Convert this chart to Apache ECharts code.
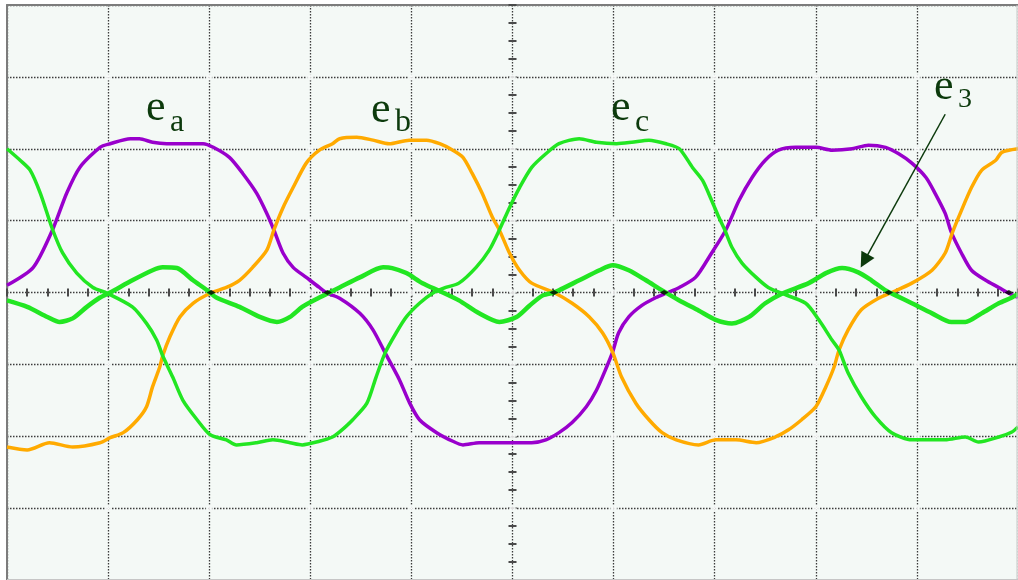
<!DOCTYPE html>
<html>
<head>
<meta charset="utf-8">
<script src="https://cdn.jsdelivr.net/npm/echarts@6/dist/echarts.min.js"></script>
<style>
  html, body { margin: 0; padding: 0; background: #ffffff; }
  #chart { width: 1018px; height: 580px; }
</style>
</head>
<body>
<div id="chart"></div>
<script>
// Back-EMF traces, in screen divisions (x: -5..5, y: -4..4)
const ea = [
  [-5.00,0.10],[-4.74,0.35],[-4.55,0.87],[-4.41,1.38],[-4.28,1.74],[-4.08,2.02],[-3.98,2.07],
  [-3.78,2.14],[-3.69,2.14],[-3.56,2.09],[-3.42,2.07],[-3.22,2.07],[-3.06,2.07],[-2.96,2.02],
  [-2.80,1.88],[-2.67,1.66],[-2.53,1.38],[-2.43,1.10],[-2.36,0.87],[-2.27,0.55],[-2.17,0.35],
  [-2.04,0.21],[-1.91,0.07],[-1.83,-0.01],[-1.71,-0.08],[-1.51,-0.29],[-1.38,-0.52],[-1.26,-0.84],
  [-1.12,-1.21],[-1.02,-1.53],[-0.92,-1.77],[-0.75,-1.95],[-0.59,-2.07],[-0.49,-2.12],[-0.33,-2.09],
  [-0.16,-2.09],[0.00,-2.09],[0.19,-2.09],[0.33,-2.05],[0.46,-1.95],[0.59,-1.81],[0.73,-1.59],
  [0.83,-1.36],[0.93,-1.04],[0.99,-0.83],[1.05,-0.56],[1.15,-0.34],[1.28,-0.18],[1.42,-0.07],
  [1.52,-0.01],[1.65,0.07],[1.81,0.21],[1.97,0.55],[2.11,0.87],[2.24,1.28],[2.37,1.60],[2.50,1.84],
  [2.63,1.98],[2.80,2.02],[3.00,2.02],[3.16,1.98],[3.36,2.00],[3.52,2.05],[3.69,2.02],[3.82,1.93],
  [3.95,1.80],[4.09,1.60],[4.18,1.38],[4.28,1.10],[4.34,0.84],[4.44,0.55],[4.54,0.31],[4.68,0.17],
  [4.81,0.07],[4.91,-0.01],[5.00,-0.07]
];
const eb = [
  [-5.00,-2.15],[-4.80,-2.19],[-4.58,-2.09],[-4.35,-2.15],[-4.08,-2.09],[-3.98,-2.02],[-3.85,-1.95],
  [-3.71,-1.77],[-3.62,-1.59],[-3.56,-1.31],[-3.49,-1.04],[-3.46,-0.88],[-3.39,-0.62],[-3.29,-0.34],
  [-3.16,-0.15],[-2.99,-0.01],[-2.83,0.07],[-2.70,0.17],[-2.57,0.35],[-2.43,0.59],[-2.36,0.87],
  [-2.27,1.18],[-2.17,1.46],[-2.04,1.80],[-1.91,1.98],[-1.78,2.07],[-1.71,2.14],[-1.54,2.16],
  [-1.38,2.12],[-1.22,2.07],[-1.02,2.12],[-0.85,2.12],[-0.72,2.07],[-0.59,1.98],[-0.49,1.88],
  [-0.40,1.66],[-0.30,1.38],[-0.20,1.05],[-0.13,0.87],[-0.03,0.55],[0.07,0.31],[0.19,0.13],
  [0.41,0.00],[0.59,-0.15],[0.76,-0.34],[0.89,-0.56],[0.99,-0.83],[1.08,-1.18],[1.22,-1.54],
  [1.35,-1.77],[1.48,-1.95],[1.62,-2.05],[1.84,-2.12],[2.01,-2.05],[2.21,-2.05],[2.41,-2.09],
  [2.60,-2.01],[2.73,-1.91],[2.86,-1.77],[3.00,-1.59],[3.10,-1.31],[3.18,-1.04],[3.23,-0.80],
  [3.32,-0.52],[3.45,-0.24],[3.62,-0.08],[3.75,0.00],[3.95,0.13],[4.15,0.31],[4.28,0.55],
  [4.35,0.83],[4.44,1.14],[4.54,1.46],[4.64,1.70],[4.78,1.84],[4.84,1.95],[5.00,2.00]
];
const ec = [
  [-5.00,2.00],[-4.87,1.84],[-4.77,1.70],[-4.67,1.38],[-4.55,0.88],[-4.45,0.55],[-4.31,0.27],
  [-4.15,0.07],[-4.01,-0.01],[-3.76,-0.20],[-3.62,-0.43],[-3.52,-0.66],[-3.46,-0.88],[-3.36,-1.18],
  [-3.26,-1.50],[-3.12,-1.77],[-2.99,-1.98],[-2.83,-2.05],[-2.73,-2.12],[-2.53,-2.09],[-2.37,-2.05],
  [-2.20,-2.09],[-2.08,-2.12],[-1.91,-2.07],[-1.78,-2.01],[-1.71,-1.94],[-1.58,-1.77],[-1.44,-1.54],
  [-1.35,-1.18],[-1.26,-0.84],[-1.15,-0.56],[-1.05,-0.34],[-0.92,-0.15],[-0.79,-0.01],[-0.66,0.07],
  [-0.53,0.13],[-0.36,0.35],[-0.23,0.59],[-0.13,0.87],[-0.03,1.18],[0.07,1.46],[0.19,1.74],
  [0.33,1.93],[0.46,2.07],[0.66,2.14],[0.83,2.09],[1.03,2.07],[1.18,2.09],[1.35,2.12],[1.52,2.07],
  [1.65,2.00],[1.78,1.74],[1.88,1.56],[1.97,1.28],[2.04,1.05],[2.10,0.87],[2.17,0.63],[2.27,0.41],
  [2.41,0.21],[2.53,0.07],[2.66,-0.01],[2.90,-0.15],[3.03,-0.38],[3.16,-0.66],[3.23,-0.80],
  [3.32,-1.12],[3.45,-1.45],[3.59,-1.73],[3.75,-1.95],[3.95,-2.05],[4.09,-2.05],[4.28,-2.05],
  [4.48,-2.01],[4.61,-2.08],[4.81,-2.01],[4.94,-1.94],[5.00,-1.87]
];
// Third-harmonic component
const e3 = [
  [-5.00,-0.11],[-4.80,-0.20],[-4.60,-0.34],[-4.48,-0.41],[-4.35,-0.36],[-4.21,-0.20],[-4.08,-0.07],
  [-3.98,0.00],[-3.76,0.17],[-3.56,0.31],[-3.46,0.35],[-3.32,0.34],[-3.16,0.17],[-3.02,0.03],
  [-2.93,-0.07],[-2.70,-0.20],[-2.50,-0.34],[-2.33,-0.41],[-2.20,-0.34],[-2.08,-0.20],[-1.91,-0.07],
  [-1.81,0.00],[-1.71,0.07],[-1.51,0.21],[-1.28,0.35],[-1.19,0.34],[-1.05,0.27],[-0.89,0.13],
  [-0.72,0.02],[-0.53,-0.11],[-0.33,-0.29],[-0.13,-0.41],[0.04,-0.34],[0.17,-0.18],[0.30,-0.04],
  [0.41,0.00],[0.46,0.03],[0.66,0.17],[0.86,0.31],[0.99,0.38],[1.15,0.31],[1.32,0.17],[1.48,0.03],
  [1.65,-0.11],[1.84,-0.25],[2.01,-0.38],[2.17,-0.43],[2.34,-0.34],[2.50,-0.15],[2.66,-0.02],
  [2.93,0.13],[3.10,0.27],[3.26,0.34],[3.42,0.28],[3.55,0.17],[3.69,0.03],[3.79,-0.04],[3.95,-0.15],
  [4.15,-0.29],[4.34,-0.41],[4.48,-0.41],[4.64,-0.29],[4.81,-0.15],[4.94,-0.07],[5.00,-0.02]
];
// Points where traces overlap on the zero line
const overlap = [[-2.98,0],[-1.83,0],[0.41,0],[1.50,0],[3.72,0],[4.91,0]];
// Graticule divisions
const xDivs = [-4,-3,-2,-1,0,1,2,3,4];
const yDivs = [-3,-2,-1,0,1,2,3];
// Arrow pointing at the third harmonic
const arrowFrom = [4.28, 2.48];
const arrowTo = [3.48, 0.44];

const graticuleDots = [];
xDivs.forEach(x => yDivs.forEach(y => graticuleDots.push([x, y])));

const chart = echarts.init(document.getElementById('chart'), null, { renderer: 'canvas' });

const labelColor = '#0c3a0c';
const serif = '"Liberation Serif", "DejaVu Serif", serif';
function txt(s, x, y, size) {
  return { type: 'text', x: x, y: y, z: 100,
    style: { text: s, font: size + 'px ' + serif, fill: labelColor, align: 'left', verticalAlign: 'middle' } };
}

const hiddenAxisParts = { axisLabel: { show: false }, splitLine: { show: false } };
const gridLine = { lineStyle: { color: '#3c3c3c', width: 1.3, type: [1.5, 1.5] } };
const tickStyle = { color: '#4a4a4a', width: 2 };

chart.setOption({
  animation: false,
  backgroundColor: '#ffffff',
  grid: { left: 7, top: 5, right: -1, bottom: -1, show: true, backgroundColor: '#f4f9f6', borderWidth: 0 },
  xAxis: [
    { type: 'value', min: -5, max: 5, interval: 1, position: 'top',
      axisLine: { onZero: false, lineStyle: { color: '#7c7c7c', width: 2 } },
      axisTick: { show: false }, axisLabel: { show: false }, splitLine: gridLine },
    Object.assign({ type: 'value', min: -5, max: 5, interval: 0.2, position: 'bottom',
      axisLine: { show: false, onZero: true, onZeroAxisIndex: 0 },
      axisTick: { inside: true, length: 4, lineStyle: tickStyle } }, hiddenAxisParts),
    Object.assign({ type: 'value', min: -5, max: 5, interval: 0.2, position: 'bottom',
      axisLine: { show: false, onZero: true, onZeroAxisIndex: 0 },
      axisTick: { inside: false, length: 4, lineStyle: tickStyle } }, hiddenAxisParts)
  ],
  yAxis: [
    { type: 'value', min: -4, max: 4, interval: 1, position: 'left',
      axisLine: { onZero: false, lineStyle: { color: '#7c7c7c', width: 2 } },
      axisTick: { show: false }, axisLabel: { show: false }, splitLine: gridLine },
    Object.assign({ type: 'value', min: -4, max: 4, interval: 0.25, position: 'left',
      axisLine: { show: false, onZero: true, onZeroAxisIndex: 0 },
      axisTick: { inside: true, length: 4, lineStyle: tickStyle } }, hiddenAxisParts),
    Object.assign({ type: 'value', min: -4, max: 4, interval: 0.25, position: 'left',
      axisLine: { show: false, onZero: true, onZeroAxisIndex: 0 },
      axisTick: { inside: false, length: 4, lineStyle: tickStyle } }, hiddenAxisParts)
  ],
  series: [
    { name: 'graticule', type: 'scatter', data: graticuleDots, symbol: 'emptyCircle', symbolSize: 5,
      itemStyle: { color: '#f4f9f6', borderColor: '#777777', borderWidth: 1 }, silent: true, z: 1 },
    { name: 'ea', type: 'line', data: ea, showSymbol: false, smooth: 0.25,
      lineStyle: { color: '#9900cc', width: 3.5 }, z: 3 },
    { name: 'eb', type: 'line', data: eb, showSymbol: false, smooth: 0.25,
      lineStyle: { color: '#ffaa00', width: 3.5 }, z: 3 },
    { name: 'ec', type: 'line', data: ec, showSymbol: false, smooth: 0.25,
      lineStyle: { color: '#22e622', width: 3.5 }, z: 3 },
    { name: 'e3', type: 'line', data: e3, showSymbol: false, smooth: 0.25,
      lineStyle: { color: '#22e622', width: 4.5 }, z: 4,
      markLine: { silent: true, symbol: ['none', 'triangle'], symbolSize: 15, label: { show: false },
        lineStyle: { color: labelColor, width: 1.5, type: 'solid' },
        data: [[{ coord: arrowFrom }, { coord: arrowTo }]] } },
    { name: 'overlap', type: 'scatter', data: overlap, symbol: 'diamond', symbolSize: [9, 5],
      itemStyle: { color: '#000000' }, silent: true, z: 5 }
  ],
  graphic: [
    { type: 'line', shape: { x1: 1017, y1: 5, x2: 1017, y2: 580 }, style: { stroke: '#c6c6c6', lineWidth: 1 }, z: 50 },
    { type: 'line', shape: { x1: 7, y1: 579.5, x2: 1018, y2: 579.5 }, style: { stroke: '#c6c6c6', lineWidth: 1 }, z: 50 },
    txt('e', 146, 108, 44), txt('a', 170, 123, 32),
    txt('e', 371, 110, 44), txt('b', 395, 123, 32),
    txt('e', 611, 108, 44), txt('c', 635, 123, 32),
    txt('e', 934, 87, 44), txt('3', 958, 100, 28)
  ]
});
</script>
</body>
</html>
